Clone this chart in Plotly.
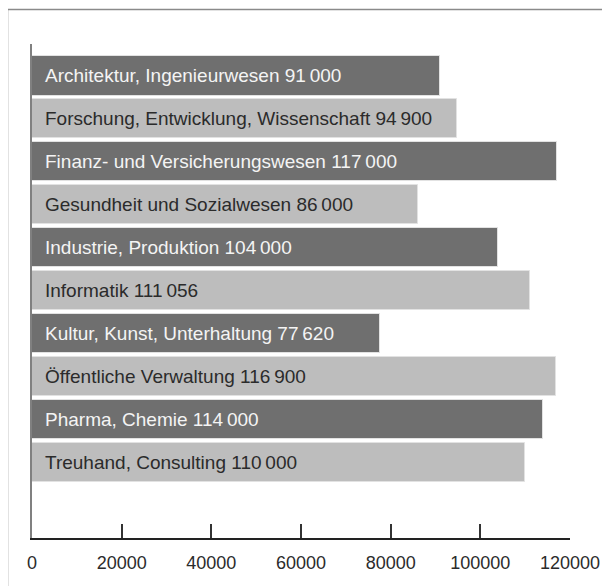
import plotly.graph_objects as go

categories = [
    "Architektur, Ingenieurwesen",
    "Forschung, Entwicklung, Wissenschaft",
    "Finanz- und Versicherungswesen",
    "Gesundheit und Sozialwesen",
    "Industrie, Produktion",
    "Informatik",
    "Kultur, Kunst, Unterhaltung",
    "Öffentliche Verwaltung",
    "Pharma, Chemie",
    "Treuhand, Consulting",
]
values = [91000, 94900, 117000, 86000, 104000, 111056, 77620, 116900, 114000, 110000]
tick_values = [0, 20000, 40000, 60000, 80000, 100000, 120000]

DARK = "#6f6f6f"
LIGHT = "#bdbdbd"
bar_colors = [DARK if i % 2 == 0 else LIGHT for i in range(len(categories))]
text_colors = ["#f4f4f4" if i % 2 == 0 else "#2b2b2b" for i in range(len(categories))]


def fmt(v):
    return f"{v:,}".replace(",", "\u2009")


FONT = "Liberation Sans"

fig = go.Figure(
    go.Bar(
        x=values,
        y=categories,
        orientation="h",
        width=0.91,
        marker=dict(color=bar_colors, line=dict(color="#e2e2e2", width=1)),
        hoverinfo="skip",
    )
)

for i, (c, v) in enumerate(zip(categories, values)):
    fig.add_annotation(
        x=0, y=c, xref="x", yref="y",
        text=f"{c} {fmt(v)}",
        showarrow=False, xanchor="left", yanchor="middle", xshift=11,
        font=dict(family=FONT, size=19, color=text_colors[i]),
    )

# outer frame (top and left edges visible)
fig.add_shape(
    type="rect", xref="paper", yref="paper",
    xsizemode="pixel", ysizemode="pixel", xanchor=0, yanchor=1,
    x0=-24.5, x1=700, y0=-700, y1=34.5,
    line=dict(color="#8a8a8a", width=1.5), fillcolor="rgba(0,0,0,0)", layer="below",
)

fig.update_layout(
    width=610, height=586,
    margin=dict(l=24, r=48, t=36, b=56),
    paper_bgcolor="white", plot_bgcolor="white",
    showlegend=False,
    bargap=0,
    xaxis=dict(
        range=[0, 120000], tickvals=tick_values, ticktext=[str(t) for t in tick_values],
        ticks="inside", ticklen=14, tickwidth=1.5, tickcolor="#333",
        showline=True, linecolor="#222", linewidth=1.5,
        showgrid=False, zeroline=False,
        tickfont=dict(family=FONT, size=18, color="#2b2b2b"),
        ticklabelstandoff=8,
    ),
    yaxis=dict(
        range=[10.76, -0.745], showticklabels=False, ticks="",
        showline=True, linecolor="#808080", linewidth=1.5,
        showgrid=False, zeroline=False,
    ),
)

fig.write_html("out.html")
